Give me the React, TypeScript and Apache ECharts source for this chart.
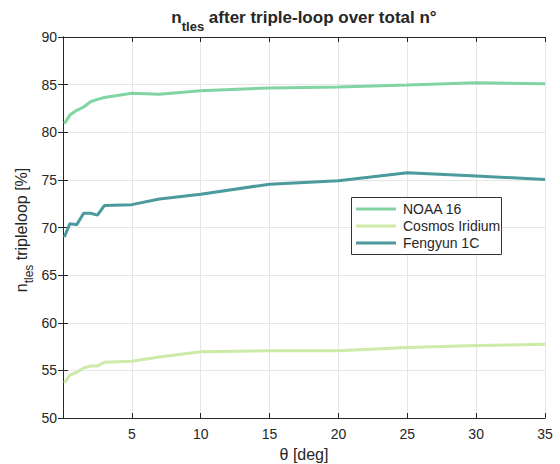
import React, { useEffect, useRef } from "react";
import * as echarts from "echarts";

const thetaDeg = [0.1, 0.5, 1, 1.5, 2, 2.5, 3, 5, 7, 10, 15, 20, 25, 30, 35];
const noaa16 = [80.9, 81.8, 82.3, 82.65, 83.2, 83.45, 83.65, 84.1, 84.0, 84.35, 84.65, 84.75, 84.95, 85.2, 85.1];
const cosmosIridium = [53.7, 54.5, 54.8, 55.25, 55.45, 55.45, 55.85, 55.95, 56.4, 56.95, 57.05, 57.07, 57.4, 57.6, 57.75];
const fengyun1C = [69.0, 70.4, 70.3, 71.5, 71.5, 71.3, 72.3, 72.4, 73.0, 73.5, 74.55, 74.9, 75.75, 75.4, 75.05];
const seriesNames = ["NOAA 16", "Cosmos Iridium", "Fengyun 1C"];
const seriesColors = ["#82d4a3", "#cdeaa8", "#4a9a9e"];

const FONT = "Liberation Sans, Arial, Helvetica, sans-serif";
const AX = "#262626";

export default function App() {
  const ref = useRef<HTMLDivElement>(null);
  useEffect(() => {
    if (!ref.current) return;
    const chart = echarts.init(ref.current, undefined, { renderer: "svg" });
    const seriesData = [noaa16, cosmosIridium, fengyun1C];
    const axisCommon = {
      axisLine: { show: true, lineStyle: { color: AX, width: 1 } },
      axisTick: { show: true, inside: true, length: 5, lineStyle: { color: AX } },
    };
    const legendRowY = [209, 226, 243];
    const legendGraphics: any[] = [
      {
        type: "rect",
        shape: { x: 351.5, y: 197.5, width: 150, height: 57 },
        style: { fill: "#ffffff", stroke: "#333333", lineWidth: 1 },
        z: 100,
      },
    ];
    seriesNames.forEach((name, i) => {
      legendGraphics.push({
        type: "line",
        shape: { x1: 356, y1: legendRowY[i], x2: 396, y2: legendRowY[i] },
        style: { stroke: seriesColors[i], lineWidth: 3 },
        z: 101,
      });
      legendGraphics.push({
        type: "text",
        x: 403,
        y: legendRowY[i],
        style: {
          text: name,
          verticalAlign: "middle",
          align: "left",
          fontSize: 14,
          fontFamily: FONT,
          fill: AX,
        },
        z: 101,
      });
    });
    chart.setOption({
      animation: false,
      textStyle: { fontFamily: FONT },
      grid: { left: 63, right: 15, top: 37, bottom: 46, containLabel: false },
      legend: { show: false, data: seriesNames },
      xAxis: [
        {
          type: "value",
          min: 0,
          max: 35,
          interval: 5,
          position: "bottom",
          ...axisCommon,
          axisLabel: {
            fontSize: 14,
            color: AX,
            margin: 9,
            fontFamily: FONT,
            formatter: (v: number) => (v === 0 ? "" : String(v)),
          },
          splitLine: { show: true, lineStyle: { color: "#e6e6e6", width: 1 } },
        },
        {
          type: "value",
          min: 0,
          max: 35,
          interval: 5,
          position: "top",
          ...axisCommon,
          axisLabel: { show: false },
          splitLine: { show: false },
        },
      ],
      yAxis: [
        {
          type: "value",
          min: 50,
          max: 90,
          interval: 5,
          position: "left",
          ...axisCommon,
          axisLabel: { fontSize: 14, color: AX, margin: 6, fontFamily: FONT },
          splitLine: { show: true, lineStyle: { color: "#e6e6e6", width: 1 } },
        },
        {
          type: "value",
          min: 50,
          max: 90,
          interval: 5,
          position: "right",
          ...axisCommon,
          axisLabel: { show: false },
          splitLine: { show: false },
        },
      ],
      series: seriesNames.map((name, i) => ({
        name,
        type: "line",
        xAxisIndex: 0,
        yAxisIndex: 0,
        showSymbol: false,
        symbol: "none",
        lineStyle: { width: 3, color: seriesColors[i] },
        itemStyle: { color: seriesColors[i] },
        data: thetaDeg.map((x, j) => [x, seriesData[i][j]]),
      })),
      graphic: [
        {
          type: "text",
          x: 304,
          y: 21,
          style: {
            text: "{m|n}{s|tles}{m| after triple-loop over total n°}",
            align: "center",
            verticalAlign: "middle",
            fill: AX,
            rich: {
              m: { fontSize: 17, fontWeight: "bold", lineHeight: 17, verticalAlign: "top", fontFamily: FONT, fill: AX },
              s: { fontSize: 13, fontWeight: "bold", lineHeight: 24.5, verticalAlign: "bottom", fontFamily: FONT, fill: AX },
            },
          },
        },
        {
          type: "text",
          x: 24,
          y: 230,
          rotation: Math.PI / 2,
          style: {
            text: "{m|n}{s|tles}{m| tripleloop [%]}",
            align: "center",
            verticalAlign: "middle",
            fill: AX,
            rich: {
              m: { fontSize: 16, lineHeight: 16, verticalAlign: "top", fontFamily: FONT, fill: AX },
              s: { fontSize: 12, lineHeight: 21, verticalAlign: "bottom", fontFamily: FONT, fill: AX },
            },
          },
        },
        {
          type: "text",
          x: 304,
          y: 454,
          style: {
            text: "θ [deg]",
            align: "center",
            verticalAlign: "middle",
            fontSize: 16,
            fontFamily: FONT,
            fill: AX,
          },
        },
        ...legendGraphics,
      ],
    });
    return () => chart.dispose();
  }, []);
  return <div ref={ref} style={{ width: 560, height: 464, position: "absolute", left: 0, top: 0 }} />;
}
